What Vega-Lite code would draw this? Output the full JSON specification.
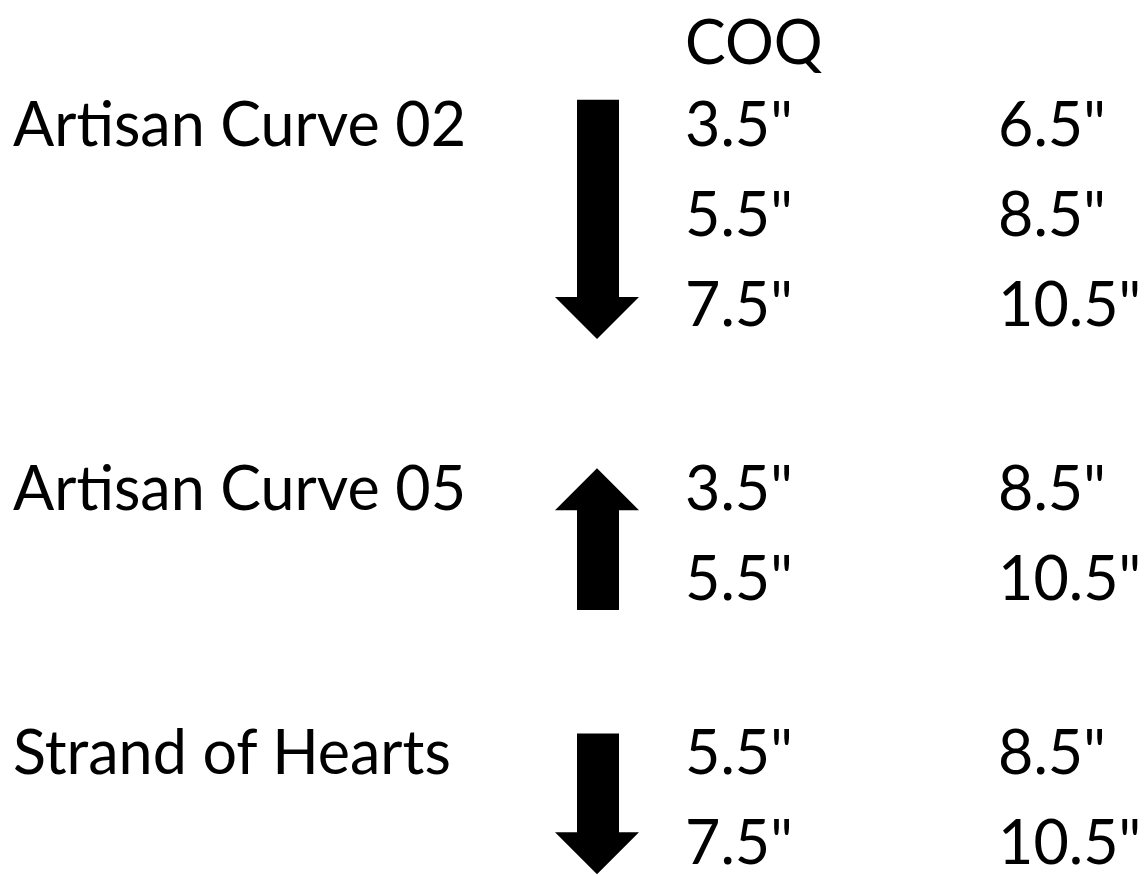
{
  "$schema": "https://vega.github.io/schema/vega-lite/v6.json",
  "autosize": {"type": "fit", "contains": "padding"},
  "width": 1146,
  "height": 876,
  "padding": 0,
  "background": "white",
  "config": {"view": {"stroke": null}},
  "datasets": {
    "labels": [
      {"text": "COQ", "px": 685, "py": 64},
      {"text": "Artisan Curve 02", "px": 13, "py": 147},
      {"text": "3.5\"", "px": 685, "py": 147},
      {"text": "6.5\"", "px": 998, "py": 147},
      {"text": "5.5\"", "px": 685, "py": 237},
      {"text": "8.5\"", "px": 998, "py": 237},
      {"text": "7.5\"", "px": 685, "py": 327},
      {"text": "10.5\"", "px": 998, "py": 327},
      {"text": "Artisan Curve 05", "px": 13, "py": 512},
      {"text": "3.5\"", "px": 685, "py": 512},
      {"text": "8.5\"", "px": 998, "py": 512},
      {"text": "5.5\"", "px": 685, "py": 602},
      {"text": "10.5\"", "px": 998, "py": 602},
      {"text": "Strand of Hearts", "px": 13, "py": 777},
      {"text": "5.5\"", "px": 685, "py": 777},
      {"text": "8.5\"", "px": 998, "py": 777},
      {"text": "7.5\"", "px": 685, "py": 867},
      {"text": "10.5\"", "px": 998, "py": 867}
    ],
    "shafts": [
      {"arrow": "Artisan Curve 02", "x1": 577, "x2": 619, "y1": 100, "y2": 299},
      {"arrow": "Artisan Curve 05", "x1": 577, "x2": 619, "y1": 511, "y2": 612},
      {"arrow": "Strand of Hearts", "x1": 577, "x2": 619, "y1": 736, "y2": 836}
    ],
    "heads": [
      {"arrow": "Artisan Curve 02", "hx": 597, "hy": 298, "dir": "down"},
      {"arrow": "Artisan Curve 05", "hx": 597, "hy": 512, "dir": "up"},
      {"arrow": "Strand of Hearts", "hx": 597, "hy": 835, "dir": "down"}
    ]
  },
  "layer": [
    {
      "data": {"name": "shafts"},
      "mark": {"type": "rect", "color": "black"},
      "encoding": {
        "x": {"field": "x1", "type": "quantitative", "scale": {"domain": [0, 1146], "nice": false, "zero": false}, "axis": null},
        "x2": {"field": "x2"},
        "y": {"field": "y1", "type": "quantitative", "scale": {"domain": [0, 876], "nice": false, "zero": false, "reverse": true}, "axis": null},
        "y2": {"field": "y2"}
      }
    },
    {
      "data": {"name": "heads"},
      "mark": {"type": "point", "filled": true, "color": "black", "opacity": 1, "size": 7056, "strokeWidth": 0},
      "encoding": {
        "x": {"field": "hx", "type": "quantitative", "scale": {"domain": [0, 1146], "nice": false, "zero": false}, "axis": null},
        "y": {"field": "hy", "type": "quantitative", "scale": {"domain": [0, 876], "nice": false, "zero": false, "reverse": true}, "axis": null},
        "shape": {"field": "dir", "type": "nominal", "scale": {"domain": ["down", "up"], "range": ["M-1,0L1,0L0,1Z", "M-1,0L1,0L0,-1Z"]}, "legend": null}
      }
    },
    {
      "data": {"name": "labels"},
      "mark": {"type": "text", "align": "left", "baseline": "alphabetic", "font": "Lato", "fontSize": 61, "color": "black"},
      "encoding": {
        "x": {"field": "px", "type": "quantitative", "scale": {"domain": [0, 1146], "nice": false, "zero": false}, "axis": null},
        "y": {"field": "py", "type": "quantitative", "scale": {"domain": [0, 876], "nice": false, "zero": false, "reverse": true}, "axis": null},
        "text": {"field": "text"}
      }
    }
  ]
}
